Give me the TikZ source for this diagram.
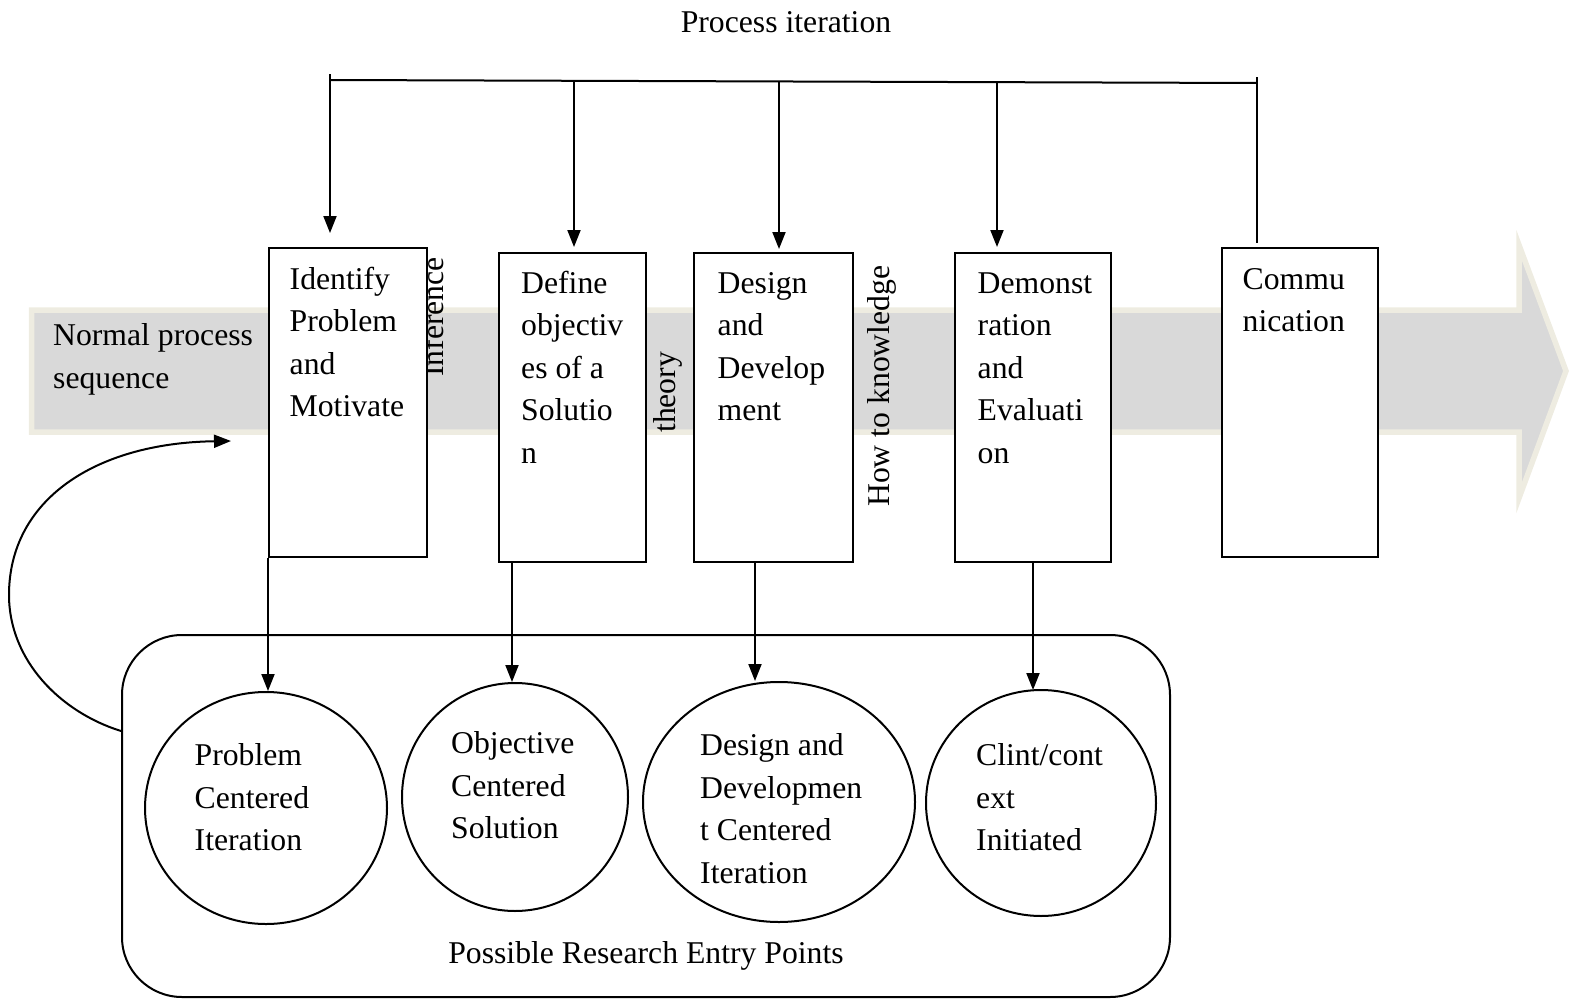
\documentclass[tikz,border=0pt]{standalone}
\usepackage{fontspec}
\setmainfont{Liberation Serif}
\usetikzlibrary{arrows.meta,shapes.geometric}
\definecolor{bandfill}{HTML}{D9D9D9}
\definecolor{bandedge}{HTML}{EEECE1}
\begin{document}
\begin{tikzpicture}[x=1pt,y=-1pt,
  every node/.style={font=\fontsize{31.7}{42.5}\selectfont},
  ln/.style={line width=2pt,draw=black},
  arr/.style={ln,-{Triangle[length=17pt,width=13pt]}},
  stepbox/.style={draw,line width=2pt,fill=white,minimum width=#1,minimum height=309pt,inner sep=0pt},
  txt/.style={align=left,inner sep=0pt,anchor=north west},
  rot/.style={rotate=90,anchor=base west,inner sep=0pt},
  ell/.style={ellipse,draw,line width=2pt,inner sep=0pt}
]
\useasboundingbox (0,0) rectangle (1572,1001);

% grey process band arrow
\draw[line width=5.5pt,draw=bandedge,fill=bandfill,line join=miter]
  (31.5,310) -- (1519,310) -- (1519,245) -- (1566,371) -- (1519,498) -- (1519,432) -- (31.5,432) -- cycle;

\node[txt] (nps) at (53,316) {\strut Normal process\\sequence};

% rotated labels
\node[rot] (inf) at (443.5,377) {Inference};
\node[rot] (theo) at (675,433) {theory};
\node[rot] (how) at (889,507) {How to knowledge};

% step boxes
\node[stepbox=158pt] (b1) at (348,402.5) {};
\node[stepbox=147pt] (b2) at (572.5,407.5) {};
\node[stepbox=159pt] (b3) at (773.5,407.5) {};
\node[stepbox=156pt] (b4) at (1033,407.5) {};
\node[stepbox=156pt] (b5) at (1300,402.5) {};

\node[txt] (b1t) at (289.5,259.5) {\strut Identify\\Problem\\and\\Motivate};
\node[txt] (b2t) at (521,263.5) {\strut Define\\objectiv\\es of a\\Solutio\\n};
\node[txt] (b3t) at (717.5,263.5) {\strut Design\\and\\Develop\\ment};
\node[txt] (b4t) at (977.5,263.5) {\strut Demonst\\ration\\and\\Evaluati\\on};
\node[txt] (b5t) at (1242.5,259.5) {\strut Commu\\nication};

% process iteration bar
\node[anchor=base] (pi) at (786,32) {Process iteration};
\coordinate (t1) at (330,80);
\coordinate (t1top) at (330,74);
\coordinate (t2) at (574,81);
\coordinate (t3) at (779,81.5);
\coordinate (t4) at (997,82);
\coordinate (t5) at (1257,83);
\coordinate (t5top) at (1257,77);
\draw[ln] (t1) -- (t5);
\draw[arr,shorten >=14pt] (t1top) -- (t1top |- b1.north);
\draw[arr,shorten >=5pt] (t2) -- (t2 |- b2.north);
\draw[arr,shorten >=3pt] (t3) -- (t3 |- b3.north);
\draw[arr,shorten >=5pt] (t4) -- (t4 |- b4.north);
\draw[ln,shorten >=4pt] (t5top) -- (t5top |- b5.north);

% entry points container
\node[draw,line width=2pt,rounded corners=60pt,minimum width=1048pt,minimum height=362pt,inner sep=0pt] (rp) at (646,816) {};
\node[anchor=base] (rpt) at (646,963) {Possible Research Entry Points};

\node[ell,minimum width=242pt,minimum height=232pt] (c1) at (266,808) {};
\node[ell,minimum width=226pt,minimum height=228pt] (c2) at (515,797) {};
\node[ell,minimum width=272pt,minimum height=240pt] (c3) at (779,802) {};
\node[ell,minimum width=230pt,minimum height=226pt] (c4) at (1041,803) {};

\node[txt] (c1t) at (194.5,736) {\strut Problem\\Centered\\Iteration};
\node[txt] (c2t) at (451,724) {\strut Objective\\Centered\\Solution};
\node[txt] (c3t) at (700,726) {\strut Design and\\Developmen\\t Centered\\Iteration};
\node[txt] (c4t) at (976,736) {\strut Clint/cont\\ext\\Initiated};

% drops from boxes to entry points
\coordinate (d2) at (512,682);
\coordinate (d3) at (755,681);
\coordinate (d4) at (1033,690);
\draw[arr] (b1.south west) -- (b1.south west |- c1.north);
\draw[arr] (b2.south -| d2) -- (d2);
\draw[arr] (b3.south -| d3) -- (d3);
\draw[arr] (b4.south -| d4) -- (d4);

% loop back arrow
\coordinate (cs) at (121,731);
\coordinate (ce) at (231,441);
\draw[arr] (cs) .. controls (60,712) and (9,660) .. (9,595)
  .. controls (9,500) and (95,443) .. (ce);
\end{tikzpicture}
\end{document}
